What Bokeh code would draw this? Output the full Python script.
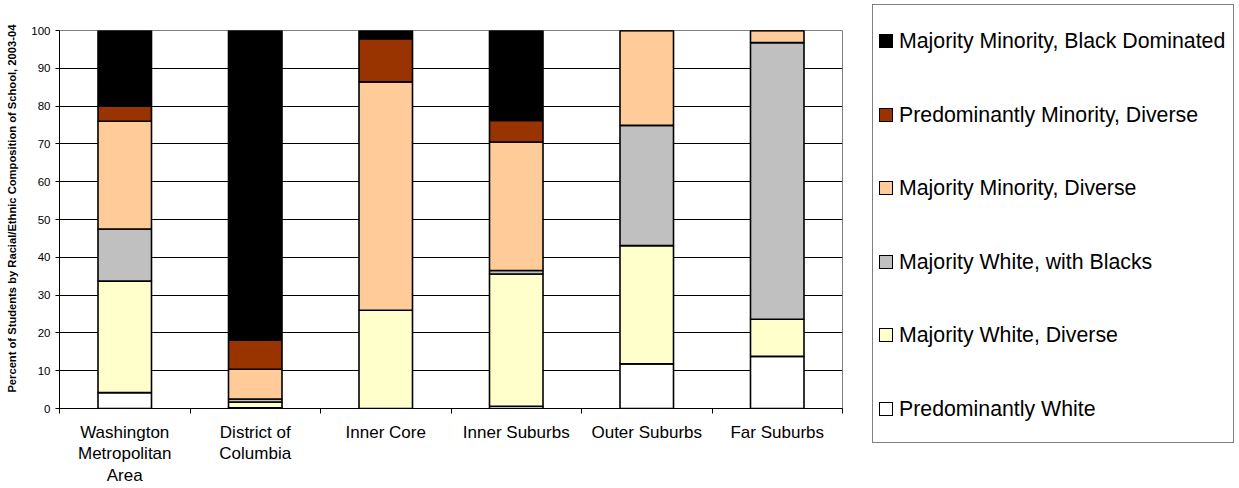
from bokeh.plotting import figure
from bokeh.models import ColumnDataSource, Range1d, FixedTicker, Div
from bokeh.layouts import row
from bokeh.embed import file_html
from bokeh.resources import INLINE

# Regions of the Washington metro area
categories = [
    "Washington\nMetropolitan\nArea",
    "District of\nColumbia",
    "Inner Core",
    "Inner Suburbs",
    "Outer Suburbs",
    "Far Suburbs",
]

# Percent of students by school composition, stacked bottom to top
predominantly_white = [4.2, 0.2, 0.0, 0.6, 11.8, 13.8]
majority_white_diverse = [29.5, 1.5, 26.0, 35.0, 31.3, 9.8]
majority_white_blacks = [13.8, 0.8, 0.0, 0.9, 31.8, 73.2]
majority_minority_diverse = [28.5, 7.9, 60.4, 34.0, 25.1, 3.2]
predominantly_minority_diverse = [4.0, 7.7, 11.4, 5.7, 0.0, 0.0]
majority_minority_black = [20.0, 81.9, 2.2, 23.8, 0.0, 0.0]

series_names = [
    "Predominantly White",
    "Majority White, Diverse",
    "Majority White, with Blacks",
    "Majority Minority, Diverse",
    "Predominantly Minority, Diverse",
    "Majority Minority, Black Dominated",
]
series_colors = ["#FFFFFF", "#FFFFCC", "#C0C0C0", "#FFCC99", "#993300", "#000000"]

y_ticks = [0, 10, 20, 30, 40, 50, 60, 70, 80, 90, 100]

FONT = "Liberation Sans"

n = len(categories)
centers = [i + 0.5 for i in range(n)]
boundaries = list(range(n + 1))

source = ColumnDataSource(dict(
    x=centers,
    s0=predominantly_white,
    s1=majority_white_diverse,
    s2=majority_white_blacks,
    s3=majority_minority_diverse,
    s4=predominantly_minority_diverse,
    s5=majority_minority_black,
))

# ---- stacked bar chart ----
p = figure(
    width=860, height=488,
    x_range=Range1d(0, n), y_range=Range1d(0, 100),
    output_backend="svg", toolbar_location=None,
    min_border_left=59, min_border_right=18,
    min_border_top=30, min_border_bottom=77,
)
p.background_fill_color = "#FFFFFF"
p.border_fill_color = "#FFFFFF"
p.outline_line_color = "#808080"
p.outline_line_width = 1

p.vbar_stack(
    ["s0", "s1", "s2", "s3", "s4", "s5"], x="x", width=0.41,
    color=series_colors, line_color="#000000", line_width=1.6,
    source=source,
)

# grid
p.xgrid.visible = False
p.ygrid.grid_line_color = "#000000"
p.ygrid.grid_line_width = 1
p.ygrid.ticker = FixedTicker(ticks=y_ticks)

# y axis (title nudged toward the top with leading no-break spaces)
p.yaxis.ticker = FixedTicker(ticks=y_ticks)
p.yaxis.axis_line_color = "#000000"
p.yaxis.major_tick_line_color = "#000000"
p.yaxis.major_tick_out = 4
p.yaxis.major_tick_in = 0
p.yaxis.minor_tick_line_color = None
p.yaxis.major_label_standoff = 5
p.yaxis.major_label_text_font = FONT
p.yaxis.major_label_text_font_size = "11.5px"
p.yaxis.major_label_text_color = "#000000"
p.yaxis.axis_label = "\u00a0" * 7 + "Percent of Students by Racial/Ethnic Composition of School, 2003-04"
p.yaxis.axis_label_text_font = FONT
p.yaxis.axis_label_text_font_size = "11.2px"
p.yaxis.axis_label_text_font_style = "bold"
p.yaxis.axis_label_text_color = "#000000"
p.yaxis.axis_label_standoff = 10

# x axis: labels at bar centres, tick marks at category boundaries
p.xaxis.ticker = FixedTicker(ticks=centers, minor_ticks=boundaries)
p.xaxis.major_label_overrides = {c: lab for c, lab in zip(centers, categories)}
p.xaxis.axis_line_color = "#000000"
p.xaxis.major_tick_line_color = None
p.xaxis.major_tick_out = 0
p.xaxis.major_tick_in = 0
p.xaxis.minor_tick_line_color = "#000000"
p.xaxis.minor_tick_out = 5
p.xaxis.minor_tick_in = 0
p.xaxis.major_label_standoff = 9
p.xaxis.major_label_text_font = FONT
p.xaxis.major_label_text_font_size = "17px"
p.xaxis.major_label_text_color = "#000000"
p.xaxis.major_label_text_line_height = 1.15

# ---- legend box, top entry is the top of each stack ----
ROW_STEP = 73.6
entries = []
for k, i in enumerate(reversed(range(len(series_names)))):
    top = 22 + k * ROW_STEP
    entries.append(
        f'<div style="position:absolute;left:6px;top:{top:.1f}px;height:28px;'
        f'display:flex;align-items:center;white-space:nowrap;">'
        f'<span style="display:inline-block;box-sizing:border-box;width:14px;height:14px;'
        f'border:1.6px solid #000000;background:{series_colors[i]};margin-right:6px;"></span>'
        f'<span style="font-family:\'{FONT}\';font-size:21.3px;color:#000000;line-height:28px;">'
        f'{series_names[i]}</span></div>'
    )
legend_html = (
    '<div style="position:relative;width:379px;height:488px;background:#FFFFFF;">'
    '<div style="position:absolute;left:7px;top:-1px;width:362px;height:439px;'
    'border:1px solid #808080;background:#FFFFFF;">'
    + "".join(entries) +
    '</div></div>'
)
legend_box = Div(text=legend_html, width=379, height=488)

layout = row(p, legend_box, spacing=0)
open("out.html", "w").write(file_html(layout, INLINE))
